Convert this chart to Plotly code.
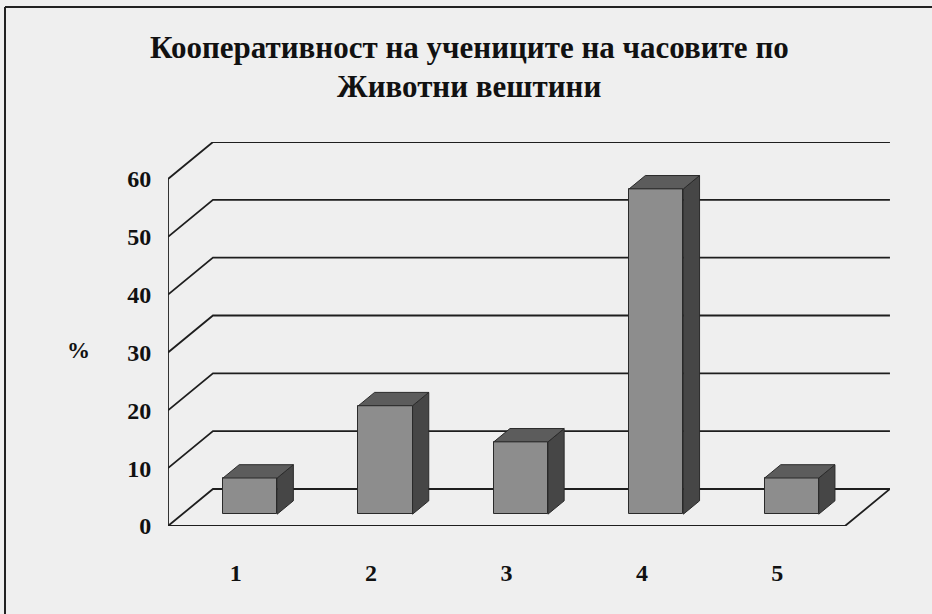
import plotly.graph_objects as go

# ---- data ----
categories = [1, 2, 3, 4, 5]
tick_labels = ["1", "2", "3", "4", "5"]
values = [6.25, 18.75, 12.5, 56.25, 6.25]
y_ticks = [0, 10, 20, 30, 40, 50, 60]
title_lines = ["Кооперативност на учениците на часовите по", "Животни вештини"]
y_label = "%"

# ---- pseudo-3D projection settings ----
DX = 0.332   # full depth shift in x units
DY = 6.4     # full depth shift in y units
d0, d1 = 0.32, 0.68   # bar depth span
bw = 0.4               # bar width
x_lo = 0.5
x_hi = categories[-1] + 0.5
ymax_axis = y_ticks[-1]

front_col = "#8d8d8d"
top_col = "#5c5c5c"
side_col = "#464646"
edge_col = "#2a2a2a"
line_col = "#1e1e1e"

fig = go.Figure()
shapes = []

def line(xs, ys, w=1.8):
    path = "M " + " L ".join("%f,%f" % (a, b) for a, b in zip(xs, ys))
    shapes.append(dict(type="path", path=path, xref="x", yref="y",
                       layer="below", line=dict(color=line_col, width=w)))

# back wall gridlines and left wall diagonals
for v in y_ticks:
    line([x_lo, x_lo + DX, x_hi + DX], [v, v + DY, v + DY])
# front left vertical axis
line([x_lo, x_lo], [0, ymax_axis])
# floor front edge and right diagonal
line([x_lo, x_hi, x_hi + DX], [0, 0, DY])

# bars
b0 = d0 * DY
b1 = d1 * DY
sx0 = d0 * DX
ddx = (d1 - d0) * DX
ddy = (d1 - d0) * DY

# front faces
fig.add_trace(go.Bar(x=[c + sx0 for c in categories], y=values, base=b0,
                     width=bw, marker=dict(color=front_col,
                                           line=dict(color=edge_col, width=1)),
                     showlegend=False, hoverinfo="skip"))

for c, v in zip(categories, values):
    xl = c - bw / 2 + sx0
    xr = c + bw / 2 + sx0
    # side face
    fig.add_trace(go.Scatter(x=[xr, xr, xr + ddx, xr + ddx, xr],
                             y=[b0, v + b0, v + b1, b1, b0],
                             mode="lines", fill="toself", fillcolor=side_col,
                             line=dict(color=edge_col, width=1),
                             hoverinfo="skip", showlegend=False))
    # top face
    fig.add_trace(go.Scatter(x=[xl, xr, xr + ddx, xl + ddx, xl],
                             y=[v + b0, v + b0, v + b1, v + b1, v + b0],
                             mode="lines", fill="toself", fillcolor=top_col,
                             line=dict(color=edge_col, width=1),
                             hoverinfo="skip", showlegend=False))

W, H = 932, 614
ml, mr, mt, mb = 168, 42, 142, 88
pw = W - ml - mr
ph = H - mt - mb

def px_to_paper(xpx=None, ypx=None):
    xp = (xpx - ml) / pw if xpx is not None else None
    yp = (H - mb - ypx) / ph if ypx is not None else None
    return xp, yp

font_family = "Liberation Serif, Times New Roman, serif"

annotations = []
for i, (txt, ypx) in enumerate(zip(title_lines, [48, 86])):
    _, yp = px_to_paper(ypx=ypx)
    xp, _ = px_to_paper(xpx=469)
    annotations.append(dict(text="<b>" + txt + "</b>", x=xp, y=yp,
                            xref="paper", yref="paper", showarrow=False,
                            xanchor="center", yanchor="middle",
                            font=dict(family=font_family, size=31, color="#111")))
xp, yp = px_to_paper(xpx=78, ypx=350)
annotations.append(dict(text="<b>" + y_label + "</b>", x=xp, y=yp, xref="paper",
                        yref="paper", showarrow=False, xanchor="center",
                        yanchor="middle",
                        font=dict(family=font_family, size=23, color="#111")))

lx, _ = px_to_paper(xpx=5)
rx, _ = px_to_paper(xpx=W + 5)
_, ty = px_to_paper(ypx=7)
_, by = px_to_paper(ypx=H + 5)
shapes += [
    dict(type="line", xref="paper", yref="paper", x0=lx, x1=rx, y0=ty, y1=ty,
         line=dict(color="#222", width=2)),
    dict(type="line", xref="paper", yref="paper", x0=lx, x1=lx, y0=ty, y1=by,
         line=dict(color="#222", width=2)),
]

fig.update_layout(
    width=W, height=H,
    margin=dict(l=ml, r=mr, t=mt, b=mb, pad=0),
    paper_bgcolor="#efefef", plot_bgcolor="#efefef",
    annotations=annotations, shapes=shapes,
    bargap=0,
    xaxis=dict(range=[x_lo, x_lo + pw / 135.4], tickvals=categories,
               ticktext=["<b>" + t + "</b>" for t in tick_labels],
               showgrid=False, zeroline=False, showline=False,
               ticks="outside", ticklen=25, tickcolor="rgba(0,0,0,0)",
               tickfont=dict(family=font_family, size=24, color="#111"),
               fixedrange=True),
    yaxis=dict(range=[0, ymax_axis + DY], tickvals=y_ticks,
               ticktext=["<b>%d</b>" % t for t in y_ticks],
               showgrid=False, zeroline=False, showline=False,
               ticks="outside", ticklen=11, tickcolor="rgba(0,0,0,0)",
               tickfont=dict(family=font_family, size=24, color="#111"),
               fixedrange=True),
)

fig.write_html("out.html")
